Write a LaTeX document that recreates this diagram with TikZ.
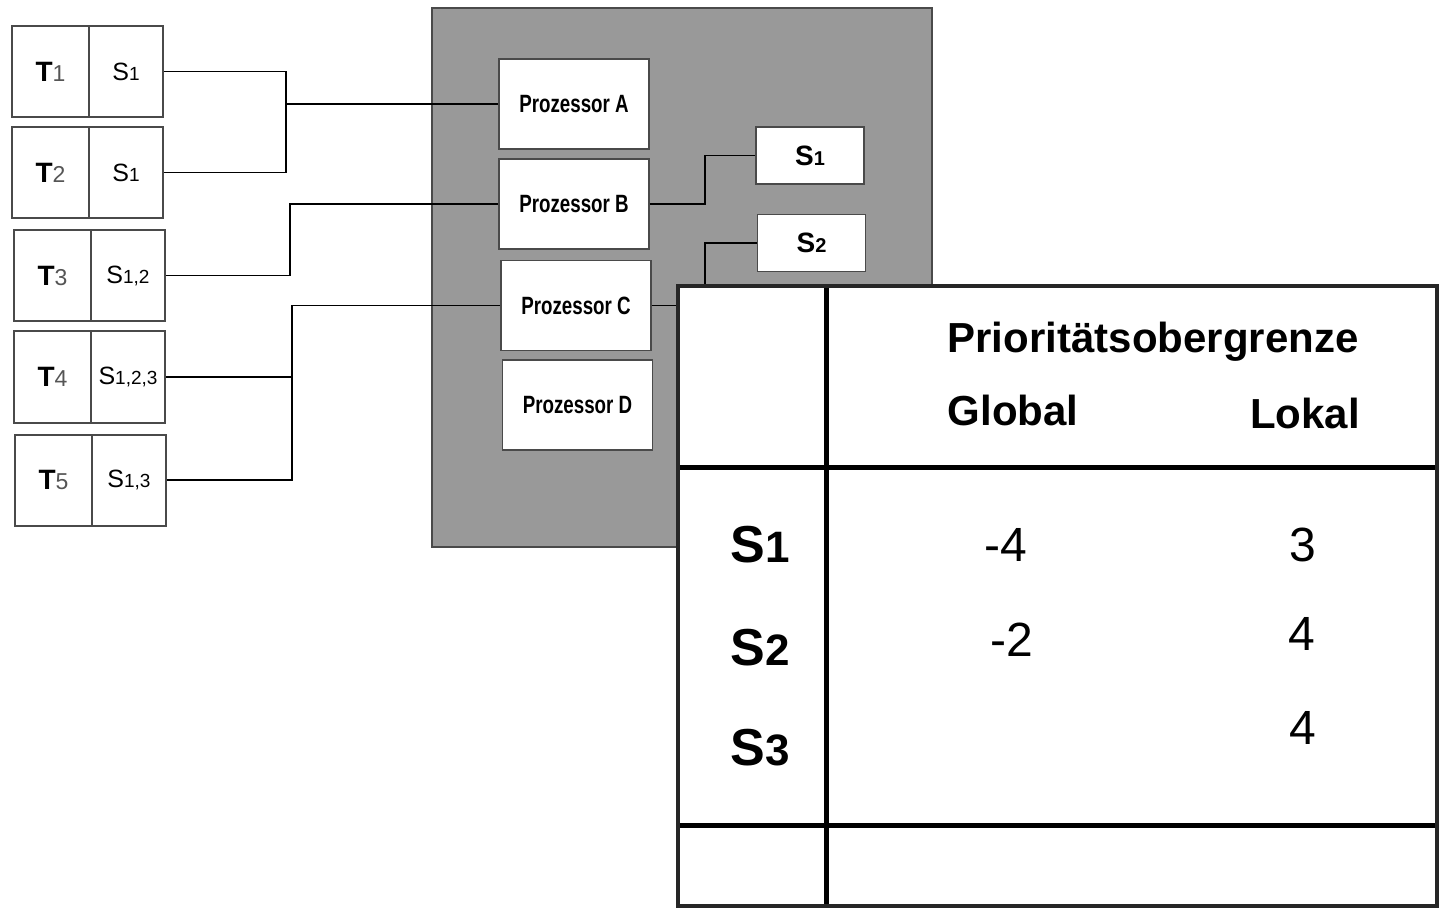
\documentclass[tikz,border=0pt]{standalone}
\usepackage{fontspec}
\setmainfont{Liberation Sans}
\newfontfamily\narrowfont[FakeStretch=0.75]{Liberation Sans}
\usetikzlibrary{positioning}
\definecolor{panelgray}{HTML}{999999}
\definecolor{framegray}{HTML}{4A4A4A}
\definecolor{idxgray}{HTML}{555555}
\newcommand{\ix}[2][9]{{\fontsize{#1}{#1}\selectfont #2}}

\begin{document}
\begin{tikzpicture}[x=0.5pt, y=-0.5pt,
    task/.style={draw=framegray, line width=1pt, minimum width=38.5pt, minimum height=45.5pt, inner sep=0pt, font=\bfseries\fontsize{14}{16}\selectfont},
    res/.style={draw=framegray, line width=1pt, minimum width=37pt, minimum height=45.5pt, inner sep=0pt, font=\fontsize{12.5}{14}\selectfont},
    proc/.style={draw=framegray, fill=white, line width=0.9pt, minimum width=75pt, minimum height=45pt, inner sep=0pt, font=\narrowfont\bfseries\fontsize{12.5}{14}\selectfont},
    sem/.style={draw=framegray, fill=white, line width=0.9pt, minimum width=54pt, minimum height=28.5pt, inner sep=0pt, font=\bfseries\fontsize{14}{16}\selectfont},
    wire/.style={line width=0.75pt},
    head/.style={font=\bfseries\fontsize{21}{24}\selectfont},
    rowlab/.style={font=\bfseries\fontsize{26}{28}\selectfont},
    val/.style={font=\fontsize{24}{26}\selectfont}]
  \useasboundingbox (0,0) rectangle (1441,909);

  % Processor panel
  \node[fill=panelgray, draw=framegray, line width=0.9pt, minimum width=250pt, minimum height=269.5pt] (panel) at (682,277.5) {};
  \node[proc] (pA) at (574,104) {Prozessor A};
  \node[proc] (pB) at (574,204) {Prozessor B};
  \node[proc] (pC) at (576,305.5) {Prozessor C};
  \node[proc] (pD) at (577.5,405) {Prozessor D};
  \node[sem] (r1) at (810,155.5) {S\ix[10]{1}};
  \node[sem] (r2) at (811.5,243) {S\ix[10]{2}};

  % Tasks with their semaphores
  \node[task] (t1) at (50.5,71.5) {T\ix[11.5]{\mdseries\color{idxgray}1}};
  \node[res, right=-1pt of t1] (s1) {S\ix[9.5]{1}};
  \node[task] (t2) at (50.5,172.5) {T\ix[11.5]{\mdseries\color{idxgray}2}};
  \node[res, right=-1pt of t2] (s2) {S\ix[9.5]{1}};
  \node[task] (t3) at (52.5,275.5) {T\ix[11.5]{\mdseries\color{idxgray}3}};
  \node[res, right=-1pt of t3] (s3) {S\ix[9.5]{1,2}};
  \node[task] (t4) at (52.5,377) {T\ix[11.5]{\mdseries\color{idxgray}4}};
  \node[res, right=-1pt of t4] (s4) {S\ix[9.5]{1,2,3}};
  \node[task] (t5) at (53.5,480) {T\ix[11.5]{\mdseries\color{idxgray}5}};
  \node[res, right=-1pt of t5] (s5) {S\ix[9.5]{1,3}};

  % Wiring
  \coordinate (jA) at (286,104);
  \coordinate (jB) at (290,204);
  \coordinate (jC) at (292,305.5);
  \draw[wire] (s1.east) -| (jA) -- (pA.west);
  \draw[wire] (s2.east) -| (jA);
  \draw[wire] (s3.east) -| (jB) -- (pB.west);
  \draw[wire] (s4.east) -| (jC) -- (pC.west);
  \draw[wire] (s5.east) -| (jC);
  \draw[wire] (pB.east) -- ++(55,0) |- (r1.west);
  \draw[wire] (pC.east) -- ++(53,0) |- (r2.west);

  % Table of priority ceilings
  \fill[white] (678,286) rectangle (1437,906);
  \draw[line width=2.5pt] (826,286) -- (826,906);
  \draw[line width=2.5pt] (678,467) -- (1437,467);
  \draw[line width=2.5pt] (678,825) -- (1437,825);
  \draw[line width=2pt, draw=black!85] (678,286) rectangle (1437,906);

  \node[head] (hPrio) at (1153,342) {Prioritätsobergrenze};
  \node[head] (hGlob) at (1013,410) {Global};
  \node[head] (hLok) at (1305,413) {Lokal};
  \node[rowlab] (lS1) at (760,545) {S\ix[22]{1}};
  \node[rowlab] (lS2) at (760,648) {S\ix[22]{2}};
  \node[rowlab] (lS3) at (760,748) {S\ix[22]{3}};
  \node[val] (g1) at (1006,545) {-4};
  \node[val] (l1) at (1303,545) {3};
  \node[val] (g2) at (1012,640) {-2};
  \node[val] (l2) at (1302,634) {4};
  \node[val] (l3) at (1303,728) {4};
\end{tikzpicture}
\end{document}
